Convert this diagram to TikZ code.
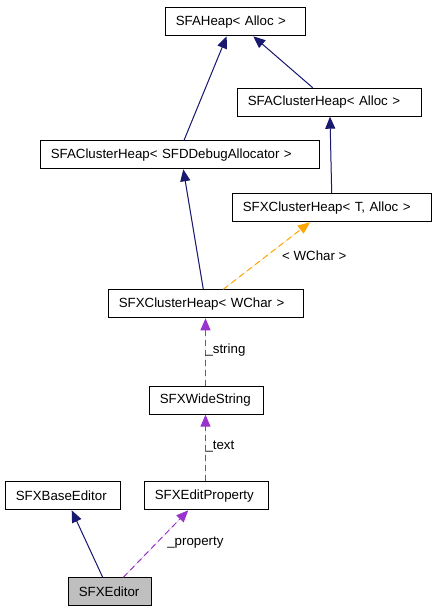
\documentclass[tikz,border=0pt]{standalone}
\usepackage{fontspec}
\setmainfont{Liberation Sans}
\usetikzlibrary{arrows.meta}
\definecolor{navyedge}{HTML}{191970}
\definecolor{orangeedge}{HTML}{FFA500}
\definecolor{purpleedge}{HTML}{9A32CD}
\definecolor{focusfill}{HTML}{BFBFBF}
\begin{document}
\begin{tikzpicture}[x=1pt,y=-1pt,
  box/.style={draw=black, line width=1pt, inner xsep=10pt, inner ysep=0pt,
    minimum height=28pt, align=left, anchor=north west,
    font=\fontsize{13.3}{16}\selectfont},
  lbl/.style={font=\fontsize{13.3}{16}\selectfont, inner sep=0pt, anchor=west},
  tipstyle/.style={-{Triangle[length=12pt,width=10pt]}},
  inh/.style={tipstyle, draw=navyedge, fill=navyedge, line width=1pt},
  tmpl/.style={tipstyle, draw=orangeedge, fill=orangeedge, line width=1pt, dash pattern=on 6pt off 4pt},
  use/.style={tipstyle, draw=purpleedge, fill=purpleedge, line width=1pt, dash pattern=on 6pt off 4pt}]
\useasboundingbox (0,0) rectangle (435,611);

\node[box, text width=120pt] (heap) at (165.3,7.3) {SFAHeap< Alloc >};
\node[box, text width=164pt] (cha) at (237.3,87.7) {SFAClusterHeap< Alloc >};
\node[box, text width=259pt] (dbg) at (40.3,140.3) {SFAClusterHeap< SFDDebugAllocator >};
\node[box, text width=179pt] (xta) at (232.3,193.3) {SFXClusterHeap< T, Alloc >};
\node[box, text width=175pt] (xw) at (108.3,289.3) {SFXClusterHeap< WChar >};
\node[box, text width=94pt] (ws) at (149.3,385.7) {SFXWideString};
\node[box, text width=95pt] (be) at (5.3,481.3) {SFXBaseEditor};
\node[box, text width=104pt] (ep) at (144.3,481.3) {SFXEditProperty};
\node[box, text width=63pt, fill=focusfill] (ed) at (68.3,577.3) {SFXEditor};

\draw[inh] ([xshift=143.7pt]dbg.north west) -- ([xshift=61.4pt]heap.south west);
\draw[inh] ([xshift=75.4pt]cha.north west) -- ([xshift=88pt]heap.south west);
\draw[inh] ([xshift=99.4pt]xta.north west) -- ([xshift=92.7pt]cha.south west);
\draw[inh] ([xshift=95pt]xw.north west) -- ([xshift=143pt]dbg.south west);
\draw[tmpl] ([xshift=115pt]xw.north west) -- ([xshift=77.7pt]xta.south west)
  node[lbl, pos=0.5, xshift=15pt] {< WChar >};
\draw[use] ([xshift=56.2pt]ws.north west) -- ([xshift=97.2pt]xw.south west)
  node[lbl, pos=0.5, xshift=-0.5pt, yshift=1.5pt] {\_string};
\draw[use] ([xshift=61.2pt]ep.north west) -- ([xshift=56.2pt]ws.south west)
  node[lbl, pos=0.5, xshift=-0.5pt, yshift=1.5pt] {\_text};
\draw[inh] ([xshift=34.4pt]ed.north west) -- ([xshift=66.4pt]be.south west);
\draw[use] ([xshift=55pt]ed.north west) -- ([xshift=44pt]ep.south west)
  node[lbl, pos=0.5, xshift=11pt, yshift=1.3pt] {\_property};
\end{tikzpicture}
\end{document}
